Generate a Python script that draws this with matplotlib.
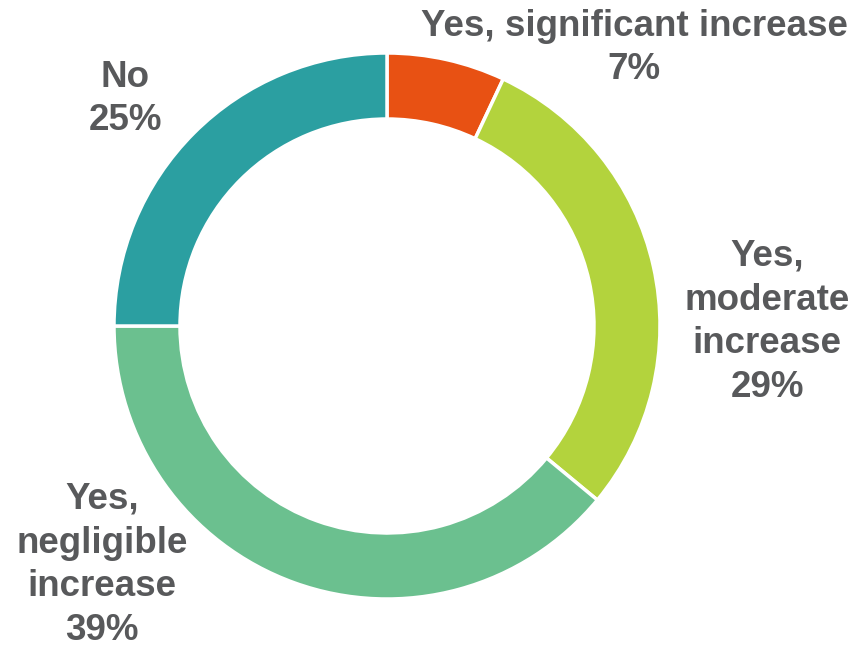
import matplotlib

matplotlib.use("Agg")

import matplotlib.pyplot as plt

labels = ["Yes, significant increase", "Yes,\nmoderate\nincrease", "Yes,\nnegligible\nincrease", "No"]
values = [7, 29, 39, 25]
colors = ["#E85113", "#B3D33D", "#6BC08F", "#2B9FA1"]
label_pos = [(634, 48), (767, 322), (102, 565), (125, 99)]

W, H = 864, 648
TEXT_COLOR = "#58595B"

plt.rcParams["font.family"] = ["Liberation Sans", "DejaVu Sans"]

fig = plt.figure(figsize=(W / 100, H / 100), dpi=100)
ax = fig.add_axes([0, 0, 1, 1])

ax.pie(
    values,
    colors=colors,
    startangle=90,
    counterclock=False,
    center=(387, H - 326),
    radius=273,
    frame=True,
    wedgeprops=dict(width=66, edgecolor="white", linewidth=2.5),
)
ax.set_xlim(0, W)
ax.set_ylim(0, H)
ax.set_aspect("equal")
ax.axis("off")

for label, value, (x, y) in zip(labels, values, label_pos):
    ax.text(
        x, H - y, f"{label}\n{value}%",
        ha="center", va="center",
        fontsize=26.5, fontweight="bold", color=TEXT_COLOR,
        linespacing=1.33,
    )

fig.savefig("out.png", dpi=100)
